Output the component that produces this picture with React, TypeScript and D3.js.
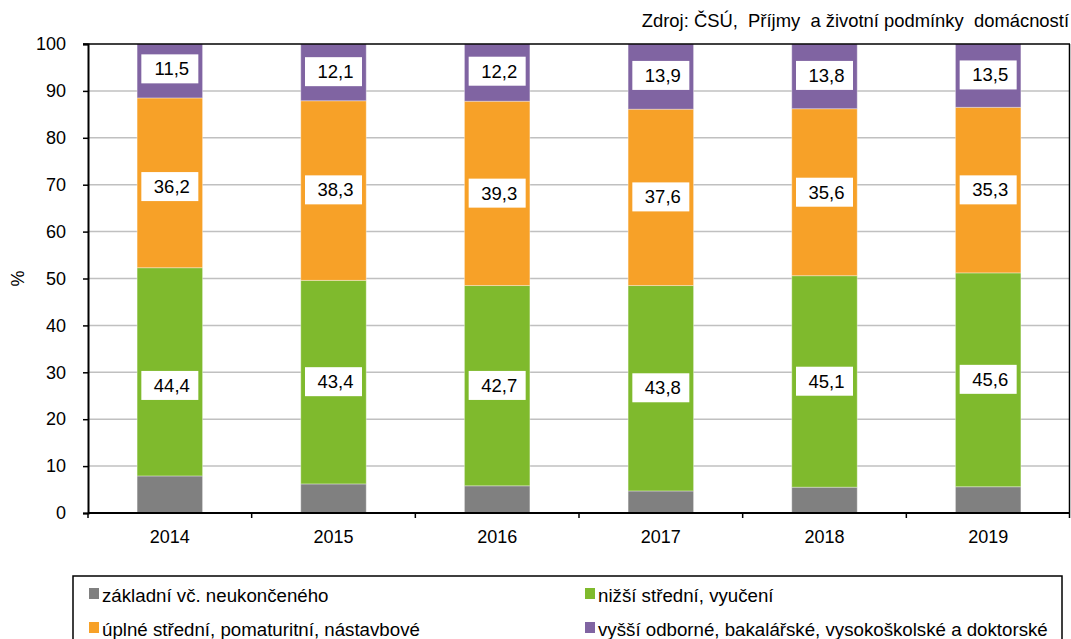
import React, { useEffect, useRef } from "react";
import * as d3 from "d3";

// data (podíl osob podle vzdělání, %)
const years = ["2014", "2015", "2016", "2017", "2018", "2019"];
const zakladni = [7.9, 6.2, 5.8, 4.7, 5.5, 5.6];
const nizsiStredni = [44.4, 43.4, 42.7, 43.8, 45.1, 45.6];
const uplneStredni = [36.2, 38.3, 39.3, 37.6, 35.6, 35.3];
const vyssi = [11.5, 12.1, 12.2, 13.9, 13.8, 13.5];

const seriesNames = [
  "základní vč. neukončeného",
  "nižší střední, vyučení",
  "úplné střední, pomaturitní, nástavbové",
  "vyšší odborné, bakalářské, vysokoškolské a doktorské",
];
const colors = ["#808080", "#7fba2d", "#f7a128", "#8064a2"];
const yTicks = [0, 10, 20, 30, 40, 50, 60, 70, 80, 90, 100];

// where the (hand placed) value labels sit, in % units
const labelAtNizsi = [27.2, 28.0, 27.2, 26.7, 28.1, 28.5];
const labelAtUplne = [69.6, 68.9, 68.2, 67.4, 68.4, 68.9];
const labelAtVyssi = [94.7, 94.1, 94.2, 93.3, 93.3, 93.4];

const source = "Zdroj: ČSÚ,  Příjmy  a životní podmínky  domácností";

const cz = d3.formatLocale({
  decimal: ",",
  thousands: " ",
  grouping: [3],
  currency: ["", " Kč"],
});
const fmt = cz.format(".1f");

const FONT = "'Liberation Sans', Arial, sans-serif";

const App = () => {
  const svgRef = useRef<SVGSVGElement>(null);
  const width = 1071;
  const height = 639;
  const margin = { top: 44, right: 1, bottom: 126, left: 88 };

  useEffect(() => {
    const svg = d3.select(svgRef.current);
    svg.selectAll("*").remove();

    const x = d3
      .scaleBand()
      .domain(years)
      .range([margin.left, width - margin.right])
      .paddingInner(0.6)
      .paddingOuter(0.3);

    const y = d3
      .scaleLinear()
      .domain([0, 100])
      .range([height - margin.bottom, margin.top]);

    const x0 = margin.left;
    const x1 = width - margin.right;
    const yBottom = y(0);
    const yTop = y(100);

    // gridlines
    svg
      .append("g")
      .selectAll("line")
      .data(yTicks.filter((t) => t > 0 && t < 100))
      .enter()
      .append("line")
      .attr("x1", x0)
      .attr("x2", x1)
      .attr("y1", (d) => y(d))
      .attr("y2", (d) => y(d))
      .attr("stroke", "#c0c0c0")
      .attr("stroke-width", 1.5);

    // stacked bars
    const table = years.map((yr, i) => ({
      year: yr,
      s0: zakladni[i],
      s1: nizsiStredni[i],
      s2: uplneStredni[i],
      s3: vyssi[i],
    }));
    const stack = d3.stack().keys(["s0", "s1", "s2", "s3"]);
    const layers = stack(table as any);

    svg
      .append("g")
      .selectAll("g")
      .data(layers)
      .enter()
      .append("g")
      .attr("fill", (_, i) => colors[i])
      .selectAll("rect")
      .data((d) => d)
      .enter()
      .append("rect")
      .attr("x", (d: any) => x(d.data.year)!)
      .attr("width", x.bandwidth())
      .attr("y", (d) => y(Math.min(d[1], 100)))
      .attr("height", (d) => y(d[0]) - y(Math.min(d[1], 100)))
      .attr("stroke", "#ffffff")
      .attr("stroke-opacity", 0.35)
      .attr("stroke-width", 1);

    // plot frame: top + right thin, left + bottom axis lines
    svg
      .append("line")
      .attr("x1", x0 - 5)
      .attr("x2", x1)
      .attr("y1", yTop)
      .attr("y2", yTop)
      .attr("stroke", "#000")
      .attr("stroke-width", 1.5);
    svg
      .append("line")
      .attr("x1", x1 - 0.5)
      .attr("x2", x1 - 0.5)
      .attr("y1", yTop)
      .attr("y2", yBottom)
      .attr("stroke", "#000")
      .attr("stroke-width", 1.5);

    // y axis
    const yAxis = svg
      .append("g")
      .attr("transform", `translate(${x0},0)`)
      .call(d3.axisLeft(y).tickValues(yTicks).tickSize(5).tickPadding(17));
    yAxis.select(".domain").attr("stroke-width", 2);
    yAxis.selectAll(".tick line").attr("stroke-width", 1.5);
    yAxis
      .selectAll("text")
      .attr("font-family", FONT)
      .attr("font-size", 18)
      .attr("fill", "#000");

    // x axis with ticks on category boundaries
    svg
      .append("line")
      .attr("x1", x0)
      .attr("x2", x1)
      .attr("y1", yBottom)
      .attr("y2", yBottom)
      .attr("stroke", "#000")
      .attr("stroke-width", 2);
    const step = x.step();
    const bounds = d3.range(years.length + 1).map((k) => x0 + k * step);
    svg
      .append("g")
      .selectAll("line")
      .data(bounds)
      .enter()
      .append("line")
      .attr("x1", (d) => Math.min(d, x1 - 0.5))
      .attr("x2", (d) => Math.min(d, x1 - 0.5))
      .attr("y1", yBottom)
      .attr("y2", yBottom + 5)
      .attr("stroke", "#000")
      .attr("stroke-width", 1.5);
    svg
      .append("g")
      .selectAll("text")
      .data(years)
      .enter()
      .append("text")
      .attr("x", (d) => x(d)! + x.bandwidth() / 2)
      .attr("y", yBottom + 30)
      .attr("text-anchor", "middle")
      .attr("font-family", FONT)
      .attr("font-size", 18)
      .text((d) => d);

    // y title
    svg
      .append("text")
      .attr("transform", `translate(24,${y(50)}) rotate(-90)`)
      .attr("text-anchor", "middle")
      .attr("font-family", FONT)
      .attr("font-size", 18)
      .text("%");

    // value labels in white boxes
    const labels = [
      { vals: nizsiStredni, at: labelAtNizsi },
      { vals: uplneStredni, at: labelAtUplne },
      { vals: vyssi, at: labelAtVyssi },
    ].flatMap((s) =>
      years.map((yr, i) => ({ year: yr, v: s.vals[i], at: s.at[i] }))
    );
    const lbl = svg
      .append("g")
      .selectAll("g")
      .data(labels)
      .enter()
      .append("g")
      .attr(
        "transform",
        (d) => `translate(${x(d.year)! + x.bandwidth() / 2},${y(d.at)})`
      );
    lbl
      .append("rect")
      .attr("x", -28.5)
      .attr("y", -14.5)
      .attr("width", 57)
      .attr("height", 29)
      .attr("fill", "#fff");
    lbl
      .append("text")
      .attr("x", 2)
      .attr("y", 6.5)
      .attr("text-anchor", "middle")
      .attr("font-family", FONT)
      .attr("font-size", 18.5)
      .text((d) => fmt(d.v));

    // source note
    svg
      .append("text")
      .attr("x", width - 2)
      .attr("y", 27)
      .attr("text-anchor", "end")
      .attr("font-family", FONT)
      .attr("font-size", 18.4)
      .style("white-space", "pre")
      .text(source);

    // legend
    const legend = svg.append("g");
    legend
      .append("rect")
      .attr("x", 73)
      .attr("y", 576)
      .attr("width", 989)
      .attr("height", 80)
      .attr("fill", "#fff")
      .attr("stroke", "#000")
      .attr("stroke-width", 1.5);
    const legendPos = [
      [89, 588],
      [585, 588],
      [89, 622],
      [585, 622],
    ];
    const items = legend
      .selectAll("g.item")
      .data(seriesNames)
      .enter()
      .append("g")
      .attr("class", "item")
      .attr(
        "transform",
        (_, i) => `translate(${legendPos[i][0]},${legendPos[i][1]})`
      );
    items
      .append("rect")
      .attr("width", 10)
      .attr("height", 11)
      .attr("fill", (_, i) => colors[i]);
    items
      .append("text")
      .attr("x", 13)
      .attr("y", 14)
      .attr("font-family", FONT)
      .attr("font-size", 18.7)
      .text((d) => d);
  }, []);

  return (
    <svg
      ref={svgRef}
      width={width}
      height={height}
      style={{ position: "absolute", left: 0, top: 0, background: "#fff" }}
    ></svg>
  );
};

export default App;
